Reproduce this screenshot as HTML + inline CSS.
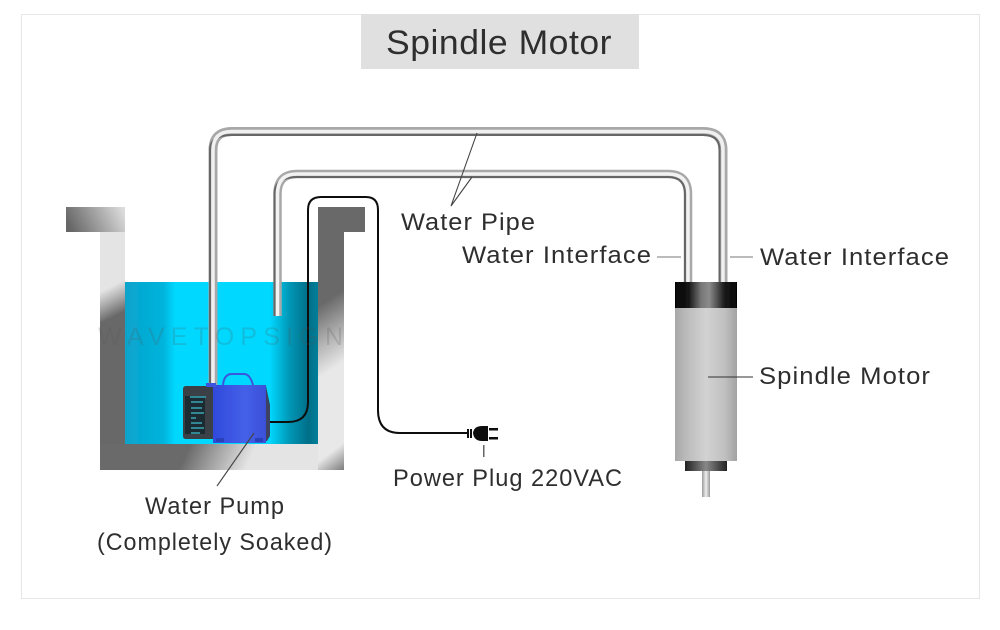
<!DOCTYPE html>
<html><head><meta charset="utf-8"><style>
html,body{margin:0;padding:0;background:#fff;width:1000px;height:630px;overflow:hidden}
svg{display:block}
text{font-family:"Liberation Sans",sans-serif;fill:#2e2e2e}
.l{letter-spacing:1px}
</style></head><body>
<svg width="1000" height="630" viewBox="0 0 1000 630" xmlns="http://www.w3.org/2000/svg">
<defs>
<filter id="soft" x="-5%" y="-5%" width="110%" height="110%"><feGaussianBlur stdDeviation="0.35"/></filter>
<linearGradient id="water" x1="0" x2="1" y1="0" y2="0">
<stop offset="0" stop-color="#0aa3cc"/><stop offset=".2" stop-color="#00b4dc"/><stop offset=".26" stop-color="#00d8ff"/><stop offset=".75" stop-color="#00d8ff"/><stop offset=".85" stop-color="#0098b8"/><stop offset=".95" stop-color="#006f88"/><stop offset="1" stop-color="#007f9a"/>
</linearGradient>
<linearGradient id="tl" gradientUnits="userSpaceOnUse" x1="72" y1="232" x2="122" y2="207"><stop offset="0" stop-color="#666"/><stop offset=".5" stop-color="#a0a0a0"/><stop offset="1" stop-color="#dcdcdc"/></linearGradient>
<linearGradient id="lw" gradientUnits="userSpaceOnUse" x1="112" y1="286" x2="125" y2="311"><stop offset="0" stop-color="#e4e4e4"/><stop offset=".5" stop-color="#a8a8a8"/><stop offset="1" stop-color="#686868"/></linearGradient>
<linearGradient id="rw" gradientUnits="userSpaceOnUse" x1="331" y1="298" x2="364" y2="349"><stop offset="0" stop-color="#696969"/><stop offset=".5" stop-color="#acacac"/><stop offset="1" stop-color="#e8e8e8"/></linearGradient>
<linearGradient id="bw" gradientUnits="userSpaceOnUse" x1="190" y1="445" x2="245" y2="470"><stop offset="0" stop-color="#6a6a6a"/><stop offset=".5" stop-color="#a8a8a8"/><stop offset="1" stop-color="#e4e4e4"/></linearGradient>
<linearGradient id="corner" gradientUnits="userSpaceOnUse" x1="331" y1="452" x2="346" y2="472"><stop offset="0" stop-color="#707070" stop-opacity="0"/><stop offset="1" stop-color="#707070" stop-opacity="1"/></linearGradient>
<linearGradient id="cap" x1="0" x2="1" y1="0" y2="0"><stop offset="0" stop-color="#050505"/><stop offset=".22" stop-color="#151515"/><stop offset=".42" stop-color="#777"/><stop offset=".55" stop-color="#8c8c8c"/><stop offset=".8" stop-color="#1a1a1a"/><stop offset="1" stop-color="#050505"/></linearGradient>
<linearGradient id="cap2" x1="0" x2="1" y1="0" y2="0"><stop offset="0" stop-color="#222"/><stop offset=".5" stop-color="#888"/><stop offset="1" stop-color="#222"/></linearGradient>
<linearGradient id="body" x1="0" x2="1" y1="0" y2="0"><stop offset="0" stop-color="#a8a8a8"/><stop offset=".2" stop-color="#bcbcbc"/><stop offset=".5" stop-color="#d2d2d2"/><stop offset=".8" stop-color="#c0c0c0"/><stop offset="1" stop-color="#a2a2a2"/></linearGradient>
<linearGradient id="shaft" x1="0" x2="1" y1="0" y2="0"><stop offset="0" stop-color="#999"/><stop offset=".5" stop-color="#eee"/><stop offset="1" stop-color="#999"/></linearGradient>
<linearGradient id="pumpb" x1="0" x2="1" y1="0" y2="0"><stop offset="0" stop-color="#2f4adc"/><stop offset=".6" stop-color="#4560e8"/><stop offset="1" stop-color="#3a50d8"/></linearGradient>
</defs>
<rect x="21.5" y="14.5" width="958" height="584" fill="#fff" stroke="#e6e6e6"/>
<rect x="361" y="14" width="278" height="55" fill="#e0e0e0"/>
<text x="386" y="54" font-size="34" style="letter-spacing:.5px" textLength="226" lengthAdjust="spacingAndGlyphs">Spindle Motor</text>

<g filter="url(#soft)">
<!-- tank -->
<rect x="66" y="207" width="59" height="25" fill="url(#tl)"/>
<rect x="100" y="232" width="25" height="238" fill="url(#lw)"/>
<rect x="318" y="207" width="47" height="25" fill="#696969"/>
<rect x="318" y="232" width="26" height="238" fill="url(#rw)"/>
<rect x="100" y="444" width="218" height="26" fill="url(#bw)"/>
<rect x="318" y="432" width="26" height="38" fill="url(#corner)"/>
<rect x="125" y="282" width="193" height="162" fill="url(#water)"/>

<!-- pipes -->
<g fill="none" stroke-linejoin="round">
<path d="M213 385V150Q213 131.500 232 131.500H703Q723 131.500 723 150V282" stroke="#a8a8a8" stroke-width="9"/>
<path d="M210 385V150Q210 135 232 135H703Q719.500 135 719.500 150V282" stroke="#666" stroke-width="2"/>
<path d="M213 385V150Q213 131.500 232 131.500H703Q723 131.500 723 150V282" stroke="#f0f0f0" stroke-width="3.500"/>
<path d="M277.500 316V194Q277.500 174 297 174H668Q688 174 688 194V282" stroke="#a8a8a8" stroke-width="8.500"/>
<path d="M274.500 316V194Q274.500 177 297 177H668Q685 177 685 194V282" stroke="#666" stroke-width="2"/>
<path d="M277.500 316V194Q277.500 174 297 174H668Q688 174 688 194V282" stroke="#f2f2f2" stroke-width="3.500"/>
</g>

<!-- wire -->
<path d="M270 422H288Q308 422 308 402V210Q308 197 321 197H366Q378 197 378 210V410Q378 433 400 433H468" fill="none" stroke="#111" stroke-width="2"/>

<!-- pump -->
<path d="M186 386H214V439H186Q183 439 183 436V389Q183 386 186 386Z" fill="#3a4046"/>
<rect x="185" y="396" width="20" height="38" fill="#1c2a30"/>
<g stroke="#38a6b6" stroke-width="1.500"><path d="M190 397H206M191 402H203M191 408H202M191 413H204M191 418H196M191 423H202M191 428H204M191 433H200"/></g>
<path d="M223 385Q224 374 232 374H244Q250 374 253 385" fill="none" stroke="#3a56dc" stroke-width="2"/>
<path d="M266 386L270 405V436L267 441H262V386Z" fill="#3c4264"/>
<path d="M213 385H266V443H213Z" fill="url(#pumpb)"/>
<rect x="206" y="383" width="10" height="4" fill="#3a56dc"/>
<rect x="216" y="438" width="8" height="4" fill="#2a40b8"/><rect x="255" y="438" width="8" height="4" fill="#2a40b8"/>

<!-- spindle -->
<rect x="675" y="282" width="62" height="26" fill="url(#cap)"/>
<rect x="675" y="308" width="62" height="153" fill="url(#body)"/>
<rect x="685" y="461" width="42" height="10" fill="url(#cap2)"/>
<rect x="702" y="471" width="8" height="26" fill="url(#shaft)"/>

<!-- plug -->
<rect x="467" y="429" width="2" height="9" fill="#111"/><rect x="470" y="429" width="2" height="9" fill="#111"/>
<path d="M473 433Q474 426 482 426H488V441H482Q474 441 473 433Z" fill="#111"/>
<rect x="489" y="428" width="9" height="2.500" fill="#111"/><rect x="489" y="437" width="9" height="2.500" fill="#111"/>
<rect x="483" y="445" width="1.500" height="12" fill="#666"/>

<!-- leaders -->
<g stroke="#444" stroke-width="1.100" fill="none">
<path d="M477 133L451 206L472 177"/>
<path d="M254 433L217 486"/>
<path d="M657 257H681" stroke="#777"/>
<path d="M730 257H753" stroke="#777"/>
<path d="M708 377H753" stroke="#333"/>
</g>
</g>

<text x="98" y="345" font-size="25" style="fill:#555" opacity=".2" textLength="245" lengthAdjust="spacing">WAVETOPSIGN</text>

<!-- labels -->
<text class="l" x="401" y="230" font-size="24" textLength="135" lengthAdjust="spacingAndGlyphs">Water Pipe</text>
<text class="l" x="462" y="263" font-size="24" textLength="190" lengthAdjust="spacingAndGlyphs">Water Interface</text>
<text class="l" x="760" y="265" font-size="24" textLength="190" lengthAdjust="spacingAndGlyphs">Water Interface</text>
<text class="l" x="759" y="384" font-size="24" textLength="172" lengthAdjust="spacingAndGlyphs">Spindle Motor</text>
<text class="l" x="393" y="486" font-size="24" textLength="230" lengthAdjust="spacingAndGlyphs">Power Plug 220VAC</text>
<text class="l" x="145" y="514" font-size="24" textLength="140" lengthAdjust="spacingAndGlyphs">Water Pump</text>
<text class="l" x="97" y="550" font-size="24" textLength="236" lengthAdjust="spacingAndGlyphs">(Completely Soaked)</text>
</svg>
</body></html>
